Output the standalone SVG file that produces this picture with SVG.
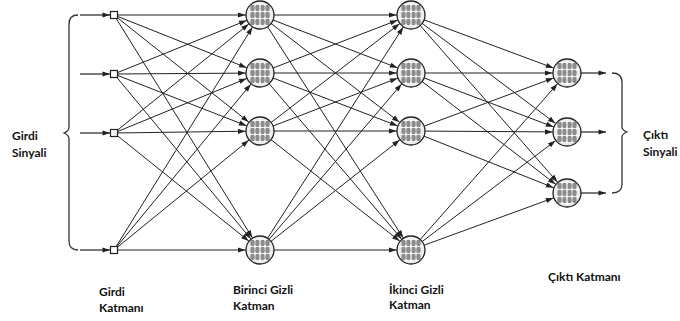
<svg xmlns="http://www.w3.org/2000/svg" xmlns:xlink="http://www.w3.org/1999/xlink" width="680" height="321" viewBox="0 0 680 321">
<style>
.e{stroke:#222;stroke-width:1;fill:none;marker-end:url(#an)}
.io{stroke:#222;stroke-width:1.2;fill:none;marker-end:url(#at)}
.br{stroke:#333;stroke-width:1.3;fill:none}
.sq{fill:#fff;stroke:#222;stroke-width:1.2}
.t{font-family:Lato,"Open Sans","Liberation Sans",sans-serif;font-weight:bold;font-size:12px;fill:#111}
</style>
<defs>
<marker id="an" markerUnits="userSpaceOnUse" markerWidth="10" markerHeight="8" viewBox="-23 -4 10 8" refX="0" refY="0" orient="auto" overflow="visible">
<path d="M-22,-2.6 L-14.5,0 L-22,2.6 Z" fill="#222"/>
</marker>
<marker id="at" markerUnits="userSpaceOnUse" markerWidth="8" markerHeight="6" viewBox="-8 -3 8 6" refX="0" refY="0" orient="auto" overflow="visible">
<path d="M-7.5,-2.6 L0,0 L-7.5,2.6 Z" fill="#222"/>
</marker>
<clipPath id="cc"><circle cx="0" cy="0" r="13.5"/></clipPath>
<g id="neuron">
<circle cx="0" cy="0" r="14" fill="#ececec"/>
<g clip-path="url(#cc)" fill="#8c8c8c">
<ellipse cx="-7.5" cy="-7" rx="2.2" ry="3.4"/><ellipse cx="-2.5" cy="-7" rx="2.2" ry="3.4"/><ellipse cx="2.5" cy="-7" rx="2.2" ry="3.4"/><ellipse cx="7.5" cy="-7" rx="2.2" ry="3.4"/>
<ellipse cx="-7.5" cy="0" rx="2.2" ry="3.4"/><ellipse cx="-2.5" cy="0" rx="2.2" ry="3.4"/><ellipse cx="2.5" cy="0" rx="2.2" ry="3.4"/><ellipse cx="7.5" cy="0" rx="2.2" ry="3.4"/>
<ellipse cx="-7.5" cy="7" rx="2.2" ry="3.4"/><ellipse cx="-2.5" cy="7" rx="2.2" ry="3.4"/><ellipse cx="2.5" cy="7" rx="2.2" ry="3.4"/><ellipse cx="7.5" cy="7" rx="2.2" ry="3.4"/>
<path d="M-14,-3.5 H14 M-14,3.5 H14 M-14,-10.5 H14 M-14,10.5 H14 M0,-14 V14" stroke="#fff" stroke-width="0.7"/>
</g>
<circle cx="0" cy="0" r="14" fill="none" stroke="#222" stroke-width="1.3"/>
</g>
</defs>
<rect width="680" height="321" fill="#fff"/>

<g id="connectors">
<path class="io" d="M80,15 H110"/>
<path class="io" d="M80,74 H110"/>
<path class="io" d="M80,133 H110"/>
<path class="io" d="M80,250 H110"/>
<path class="e" d="M114,15 L260,15"/><path class="e" d="M114,15 L260,73"/><path class="e" d="M114,15 L260,131"/><path class="e" d="M114,15 L260,250"/>
<path class="e" d="M114,74 L260,15"/><path class="e" d="M114,74 L260,73"/><path class="e" d="M114,74 L260,131"/><path class="e" d="M114,74 L260,250"/>
<path class="e" d="M114,133 L260,15"/><path class="e" d="M114,133 L260,73"/><path class="e" d="M114,133 L260,131"/><path class="e" d="M114,133 L260,250"/>
<path class="e" d="M114,250 L260,15"/><path class="e" d="M114,250 L260,73"/><path class="e" d="M114,250 L260,131"/><path class="e" d="M114,250 L260,250"/>
<path class="e" d="M260,15 L411,15"/><path class="e" d="M260,15 L411,73"/><path class="e" d="M260,15 L411,131"/><path class="e" d="M260,15 L411,250"/>
<path class="e" d="M260,73 L411,15"/><path class="e" d="M260,73 L411,73"/><path class="e" d="M260,73 L411,131"/><path class="e" d="M260,73 L411,250"/>
<path class="e" d="M260,131 L411,15"/><path class="e" d="M260,131 L411,73"/><path class="e" d="M260,131 L411,131"/><path class="e" d="M260,131 L411,250"/>
<path class="e" d="M260,250 L411,15"/><path class="e" d="M260,250 L411,73"/><path class="e" d="M260,250 L411,131"/><path class="e" d="M260,250 L411,250"/>
<path class="e" d="M411,15 L567,73"/><path class="e" d="M411,15 L567,132"/><path class="e" d="M411,15 L567,193"/>
<path class="e" d="M411,73 L567,73"/><path class="e" d="M411,73 L567,132"/><path class="e" d="M411,73 L567,193"/>
<path class="e" d="M411,131 L567,73"/><path class="e" d="M411,131 L567,132"/><path class="e" d="M411,131 L567,193"/>
<path class="e" d="M411,250 L567,73"/><path class="e" d="M411,250 L567,132"/><path class="e" d="M411,250 L567,193"/>
<path class="io" d="M581,73 H606"/>
<path class="io" d="M581,132 H606"/>
<path class="io" d="M581,193 H606"/>
</g>

<g id="braces">
<path class="br" d="M78,15 Q69,15 69,24 L69,127 Q69,131 64,133 Q69,135 69,139 L69,241 Q69,250 78,250"/>
<path class="br" d="M612,73 Q622,73 622,82 L622,127 Q622,130 627,132 Q622,134 622,137 L622,184 Q622,193 612,193"/>
</g>

<g id="input-layer">
<rect class="sq" x="110.5" y="11.5" width="7" height="7"/>
<rect class="sq" x="110.5" y="70.5" width="7" height="7"/>
<rect class="sq" x="110.5" y="129.5" width="7" height="7"/>
<rect class="sq" x="110.5" y="246.5" width="7" height="7"/>
</g>
<g id="hidden1">
<use xlink:href="#neuron" x="260" y="15"/>
<use xlink:href="#neuron" x="260" y="73"/>
<use xlink:href="#neuron" x="260" y="131"/>
<use xlink:href="#neuron" x="260" y="250"/>
</g>
<g id="hidden2">
<use xlink:href="#neuron" x="411" y="15"/>
<use xlink:href="#neuron" x="411" y="73"/>
<use xlink:href="#neuron" x="411" y="131"/>
<use xlink:href="#neuron" x="411" y="250"/>
</g>
<g id="output-layer">
<use xlink:href="#neuron" x="567" y="73"/>
<use xlink:href="#neuron" x="567" y="132"/>
<use xlink:href="#neuron" x="567" y="193"/>
</g>

<g id="labels">
<text class="t" x="12" y="140">Girdi</text>
<text class="t" x="12" y="157">Sinyali</text>
<text class="t" x="643" y="139">Çıktı</text>
<text class="t" x="643" y="156">Sinyali</text>
<text class="t" x="99" y="296">Girdi</text>
<text class="t" x="99" y="312">Katmanı</text>
<text class="t" x="233" y="294">Birinci Gizli</text>
<text class="t" x="233" y="310">Katman</text>
<text class="t" x="389" y="294">İkinci Gizli</text>
<text class="t" x="389" y="309">Katman</text>
<text class="t" x="548" y="281">Çıktı Katmanı</text>
</g>
</svg>
